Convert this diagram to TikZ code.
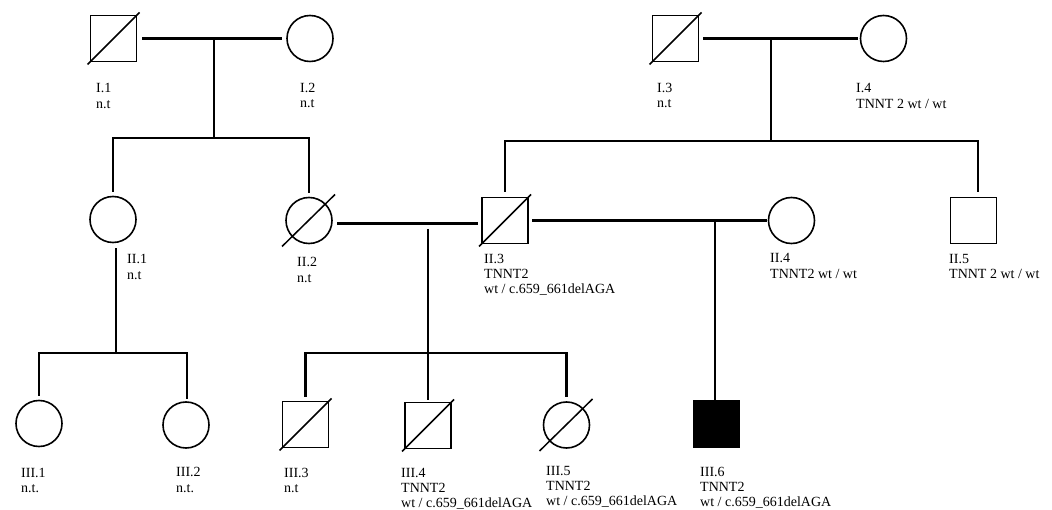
\documentclass[tikz,border=0pt]{standalone}
\usepackage{fontspec}
\setmainfont{Liberation Serif}
\begin{document}
\begin{tikzpicture}[x=1pt,y=-1pt,
  male/.style={draw,line width=1.6pt,rectangle,minimum size=46pt,inner sep=0pt},
  female/.style={draw,line width=1.6pt,circle,minimum size=46pt,inner sep=0pt},
  affected/.style={fill=black},
  rel/.style={line width=2.8pt},
  dec/.style={line width=1.5pt},
  lbl/.style={anchor=base west,align=left,inner sep=0pt,font=\fontsize{14}{15.3}\selectfont},
  lbltwo/.style={lbl,yshift=-15.3pt},
  lblthree/.style={lbl,yshift=-30.6pt}]
\useasboundingbox[fill=white] (0,0) rectangle (1052,510);

% generation I
\node[male] (I1) at (113.5,38.5) {};
\node[female] (I2) at (310,38.5) {};
\node[male] (I3) at (675.5,38.5) {};
\node[female] (I4) at (883.5,38.5) {};
% generation II
\node[female] (II1) at (113,219.5) {};
\node[female] (II2) at (309,220.5) {};
\node[male] (II3) at (505,220.5) {};
\node[female] (II4) at (791.5,220.5) {};
\node[male] (II5) at (973.5,220.5) {};
% generation III
\node[female] (III1) at (39,423.5) {};
\node[female] (III2) at (186,425) {};
\node[male] (III3) at (305.5,424.5) {};
\node[male] (III4) at (428,425.5) {};
\node[female] (III5) at (566.5,425) {};
\node[male,affected] (III6) at (716.5,424) {};

% deceased marks
\foreach \n in {I1,I3,II3,III3,III4}
  \draw[dec] ([shift={(-26pt,-26pt)}]\n.center) -- ([shift={(26pt,26pt)}]\n.center);
\foreach \n in {II2,III5}
  \draw[dec] ([shift={(-27pt,-26pt)}]\n.center) -- ([shift={(26pt,26pt)}]\n.center);

% coordinates on connector lines
\coordinate (m1) at (214,38.5);
\coordinate (s1) at (214,138);
\coordinate (m2) at (771,38.5);
\coordinate (s2) at (771,141);
\coordinate (m3) at (428,229);
\coordinate (s3) at (428,353);
\coordinate (m4) at (715,221);
\coordinate (s4) at (116,353);

% family I.1 x I.2
\draw[rel] ([xshift=5pt]I1.east) -- ([xshift=-4pt]I2.west);
\draw[rel] (m1) -- (s1);
\draw[rel] ([yshift=4pt]II1.north) |- (s1) -| ([yshift=4pt]II2.north);

% family I.3 x I.4
\draw[rel] ([xshift=4pt]I3.east) -- ([xshift=-2pt]I4.west);
\draw[rel] (m2) -- (s2);
\draw[rel] ([yshift=5pt]II3.north) |- (s2) -| ([xshift=4.5pt,yshift=5pt]II5.north);

% family II.2 x II.3
\draw[rel] ([xshift=4.5pt,yshift=-3pt]II2.east) -- ([xshift=-3.5pt,yshift=-3pt]II3.west);
\draw[rel] (m3) -- ([yshift=2pt]III4.north);
\draw[rel] ([yshift=4pt]III3.north) |- (s3) -| ([yshift=4.5pt]III5.north);

% family II.3 x II.4
\draw[rel] ([xshift=3.5pt]II3.east) -- ([xshift=-1pt]II4.west);
\draw[rel] (m4) -- (m4 |- III6.north);

% II.1 descendants
\draw[rel] ([xshift=3pt,yshift=-5pt]II1.south) -- (s4);
\draw[rel] ([yshift=4pt]III1.north) |- (s4) -| ([xshift=1pt,yshift=2.5pt]III2.north);

% labels
\node[lbltwo] (L-I1) at (96,93) {I.1\\n.t};
\node[lbltwo] (L-I2) at (300,92.7) {I.2\\n.t};
\node[lbltwo] (L-I3) at (657,92.7) {I.3\\n.t};
\node[lbltwo] (L-I4) at (856,93) {I.4\\TNNT 2 wt / wt};
\node[lbltwo] (L-II1) at (127,264) {II.1\\n.t};
\node[lbltwo] (L-II2) at (297,267) {II.2\\n.t};
\node[lblthree] (L-II3) at (484,263.3) {II.3\\TNNT2\\wt / c.659\_661delAGA};
\node[lbltwo] (L-II4) at (770,263) {II.4\\TNNT2 wt / wt};
\node[lbltwo] (L-II5) at (949,263.3) {II.5\\TNNT 2 wt / wt};
\node[lbltwo] (L-III1) at (21,477) {III.1\\n.t.};
\node[lbltwo] (L-III2) at (176,476.7) {III.2\\n.t.};
\node[lbltwo] (L-III3) at (284,477) {III.3\\n.t};
\node[lblthree] (L-III4) at (401,477) {III.4\\TNNT2\\wt / c.659\_661delAGA};
\node[lblthree] (L-III5) at (546,475) {III.5\\TNNT2\\wt / c.659\_661delAGA};
\node[lblthree] (L-III6) at (700,476) {III.6\\TNNT2\\wt / c.659\_661delAGA};
\end{tikzpicture}
\end{document}
